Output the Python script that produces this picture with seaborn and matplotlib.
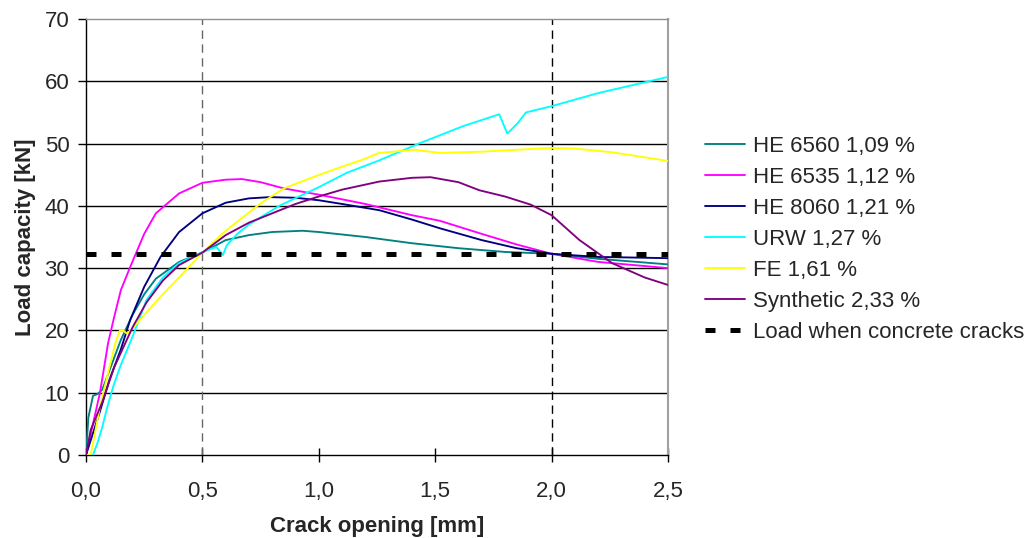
import matplotlib
matplotlib.use("Agg")
import matplotlib.pyplot as plt
import seaborn as sns
import numpy as np

# ---------------- data ----------------
he6560_x = [0.0, 0.01, 0.03, 0.05, 0.07, 0.1, 0.15, 0.2, 0.25, 0.3, 0.4, 0.5, 0.6, 0.7, 0.8, 0.93, 1.0, 1.2, 1.4, 1.6, 1.8, 2.0, 2.2, 2.5]
he6560_y = [0.0, 6.0, 9.5, 9.8, 10.5, 13.5, 18.5, 22.5, 25.8, 28.3, 31.0, 32.5, 34.5, 35.3, 35.8, 36.0, 35.8, 35.0, 34.0, 33.2, 32.6, 32.3, 31.5, 30.6]

he6535_x = [0.0, 0.03, 0.06, 0.095, 0.12, 0.15, 0.19, 0.25, 0.3, 0.4, 0.5, 0.6, 0.67, 0.75, 0.85, 1.0, 1.2, 1.4, 1.52, 1.7, 1.85, 2.0, 2.2, 2.5]
he6535_y = [0.0, 5.0, 10.0, 18.0, 22.0, 26.5, 30.2, 35.5, 38.8, 42.0, 43.7, 44.2, 44.3, 43.8, 42.8, 41.8, 40.3, 38.5, 37.6, 35.5, 33.8, 32.3, 31.0, 30.0]

he8060_x = [0.0, 0.03, 0.06, 0.1, 0.15, 0.19, 0.25, 0.32, 0.4, 0.5, 0.6, 0.7, 0.79, 0.9, 1.0, 1.1, 1.26, 1.4, 1.52, 1.7, 1.85, 2.0, 2.2, 2.5]
he8060_y = [0.0, 3.5, 7.0, 12.0, 17.0, 21.7, 27.0, 31.8, 35.8, 38.8, 40.5, 41.2, 41.4, 41.3, 40.9, 40.3, 39.3, 37.8, 36.4, 34.5, 33.2, 32.3, 31.8, 31.6]

urw_x = [0.0, 0.03, 0.05, 0.07, 0.09, 0.116, 0.15, 0.2, 0.26, 0.33, 0.4, 0.5, 0.56, 0.588, 0.605, 0.65, 0.7, 0.83, 1.0, 1.12, 1.26, 1.43, 1.62, 1.775, 1.81, 1.855, 1.89, 2.0, 2.2, 2.5]
urw_y = [0.0, 0.0, 2.0, 4.5, 7.5, 10.9, 14.5, 19.0, 24.9, 28.5, 30.8, 32.6, 33.4, 32.1, 33.7, 35.5, 37.0, 40.0, 43.0, 45.3, 47.3, 50.0, 52.8, 54.7, 51.6, 53.3, 55.0, 56.0, 58.1, 60.7]

fe_x = [0.0, 0.02, 0.06, 0.1, 0.13, 0.146, 0.16, 0.175, 0.2, 0.25, 0.33, 0.4, 0.5, 0.6, 0.75, 0.85, 0.975, 1.1, 1.18, 1.26, 1.41, 1.52, 1.7, 1.85, 2.0, 2.1, 2.26, 2.4, 2.5]
fe_y = [0.0, 0.0, 7.7, 14.0, 18.5, 20.0, 20.0, 19.5, 20.3, 22.5, 25.8, 28.5, 32.5, 36.0, 40.4, 42.8, 44.6, 46.3, 47.3, 48.5, 49.0, 48.5, 48.7, 49.0, 49.3, 49.2, 48.6, 47.8, 47.2]

syn_x = [0.0, 0.02, 0.07, 0.12, 0.2, 0.26, 0.33, 0.4, 0.5, 0.6, 0.7, 0.78, 0.9, 1.0, 1.1, 1.26, 1.4, 1.48, 1.6, 1.69, 1.8, 1.91, 2.0, 2.12, 2.26, 2.4, 2.5]
syn_y = [0.0, 4.0, 8.5, 14.0, 20.5, 24.5, 28.0, 30.5, 32.5, 35.3, 37.3, 38.5, 40.3, 41.5, 42.6, 43.9, 44.5, 44.6, 43.8, 42.5, 41.5, 40.2, 38.5, 34.5, 30.8, 28.5, 27.3]

crack_x = [0.0, 2.5]
crack_y = [32.3, 32.3]

series_names = ["HE 6560 1,09 %", "HE 6535 1,12 %", "HE 8060 1,21 %",
                "URW 1,27 %", "FE 1,61 %", "Synthetic 2,33 %"]
series_colors = ["#008080", "#FF00FF", "#000080", "#00FFFF", "#FFFF00", "#800080"]
crack_name = "Load when concrete cracks"

x_ticks = [0.0, 0.5, 1.0, 1.5, 2.0, 2.5]
x_tick_labels = ["0,0", "0,5", "1,0", "1,5", "2,0", "2,5"]
y_ticks = [0, 10, 20, 30, 40, 50, 60, 70]

# ---------------- plot ----------------
sns.set_style("white")
plt.rcParams['font.family'] = ['Liberation Sans', 'DejaVu Sans']

fig = plt.figure(figsize=(10.30, 5.38), dpi=100)
ax = fig.add_axes([0.0835, 0.1543, 0.5650, 0.8104])

# horizontal grid
for yv in y_ticks[1:-1]:
    ax.axhline(yv, color="black", lw=1.0, zorder=1)
# vertical dashed reference lines
ax.axvline(0.5, color="#666666", lw=1.0, ls=(0, (6, 4)), zorder=1)
ax.axvline(2.0, color="black", lw=1.0, ls=(0, (6, 4)), zorder=1)

all_x = [he6560_x, he6535_x, he8060_x, urw_x, fe_x, syn_x]
all_y = [he6560_y, he6535_y, he8060_y, urw_y, fe_y, syn_y]
for xs, ys, name, col in zip(all_x, all_y, series_names, series_colors):
    sns.lineplot(x=xs, y=ys, ax=ax, color=col, lw=1.35, label=name,
                 sort=False, estimator=None, zorder=3)

sns.lineplot(x=crack_x, y=crack_y, ax=ax, color="black", lw=3.6,
             ls=(0, (2.0, 3.0)), label=crack_name, sort=False,
             estimator=None, zorder=4)

ax.set_xlim(0, 2.5)
ax.set_ylim(0, 70)
ax.set_xticks(x_ticks)
ax.set_xticklabels(x_tick_labels)
ax.set_yticks(y_ticks)
ax.tick_params(axis="x", direction="inout", length=10, width=1, color="black",
               labelsize=16, pad=14)
ax.tick_params(axis="y", direction="out", length=6, width=1, color="black",
               labelsize=16, pad=6)
ax.tick_params(bottom=True, left=True)

for s in ["left", "bottom"]:
    ax.spines[s].set_color("black")
    ax.spines[s].set_linewidth(1.0)
ax.spines["top"].set_color("#909090")
ax.spines["top"].set_linewidth(1.0)
ax.spines["right"].set_color("#a0a0a0")
ax.spines["right"].set_linewidth(1.5)

ax.set_xlabel("Crack opening [mm]", fontsize=16, fontweight="bold", labelpad=10)
ax.set_ylabel("Load capacity [kN]", fontsize=16, fontweight="bold", labelpad=6)

leg = ax.legend(loc="upper left", bbox_to_anchor=(1.048, 0.752), frameon=False,
                fontsize=16, handlelength=1.8, handletextpad=0.36,
                labelspacing=0.45, borderaxespad=0)

fig.savefig("out.png", dpi=100)
